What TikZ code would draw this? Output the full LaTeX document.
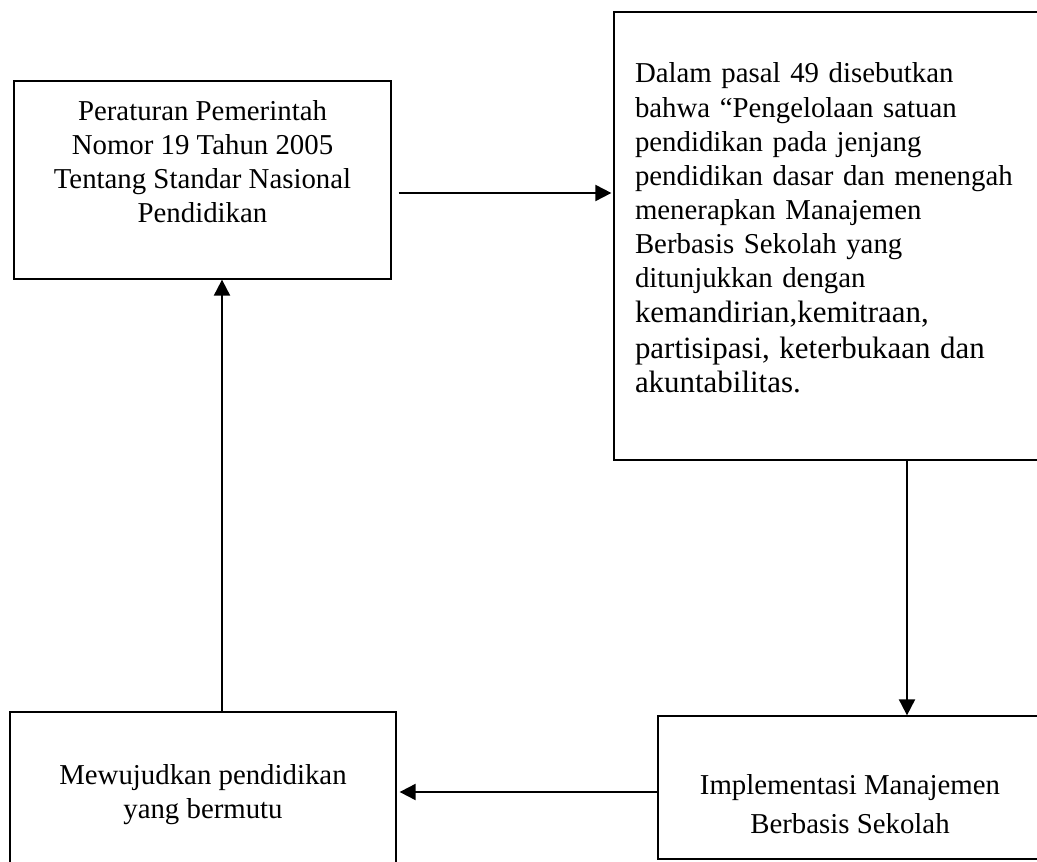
\documentclass[tikz,border=0pt]{standalone}
\usepackage{fontspec}
\setmainfont{Liberation Serif}
\usetikzlibrary{arrows.meta, positioning, calc}

\begin{document}
\begin{tikzpicture}[
    box/.style={draw, rectangle, line width=0.9pt, align=center, inner sep=0pt,
      font=\fontsize{20.5}{24.2}\selectfont},
    flow/.style={-{Triangle[length=0.4cm, width=0.4cm]}, line width=1.4pt}
  ]
  \useasboundingbox (0,0) rectangle (25.925,21.525);
  \clip (0,0) rectangle (25.925,21.525);
  \node[box, minimum width=9.425cm, minimum height=4.95cm, text depth=0.94cm] (pp) at (5.0625,17.025) {
    Peraturan Pemerintah\\
    Nomor 19 Tahun 2005\\
    Tentang Standar Nasional\\
    Pendidikan
  };
  \node[box, align=left, text width=10.5cm, inner xsep=0.525cm, minimum height=11.2cm,
    text height=0.5cm, text depth=8.15cm] (pasal) at (21.125,15.625) {
    Dalam pasal 49 disebutkan\\
    bahwa “Pengelolaan satuan\\
    pendidikan pada jenjang\\
    pendidikan dasar dan menengah\\
    menerapkan Manajemen\\
    Berbasis Sekolah yang\\
    ditunjukkan dengan\\
    \fontsize{22}{25.5}\selectfont kemandirian,kemitraan,\\
    partisipasi, keterbukaan dan\\
    akuntabilitas.
  };
  \node[box, minimum width=9.6cm, minimum height=3.575cm, text height=2.3cm,
    font=\fontsize{20.5}{27.7}\selectfont] (mbs) at (21.25,1.8375) {
    Implementasi Manajemen\\
    Berbasis Sekolah
  };
  \node[box, minimum width=9.65cm, minimum height=4.125cm] (mutu) at (5.075,1.6625) {
    Mewujudkan pendidikan\\
    yang bermutu
  };
  % cycle of arrows
  \draw[flow, shorten <=0.175cm, shorten >=0.05cm] ([yshift=-0.325cm]pp.east) -- ([yshift=-0.325cm]pp.east -| pasal.west);
  \draw[flow] ([xshift=1.425cm]mbs.north |- pasal.south) -- ([xshift=1.425cm]mbs.north);
  \draw[flow, shorten >=0.075cm] ([yshift=-0.1125cm]mbs.west) -- ([yshift=-0.1125cm]mbs.west -| mutu.east);
  \draw[flow] ([xshift=0.475cm]mutu.north) -- ([xshift=0.475cm]mutu.north |- pp.south);
\end{tikzpicture}
\end{document}
